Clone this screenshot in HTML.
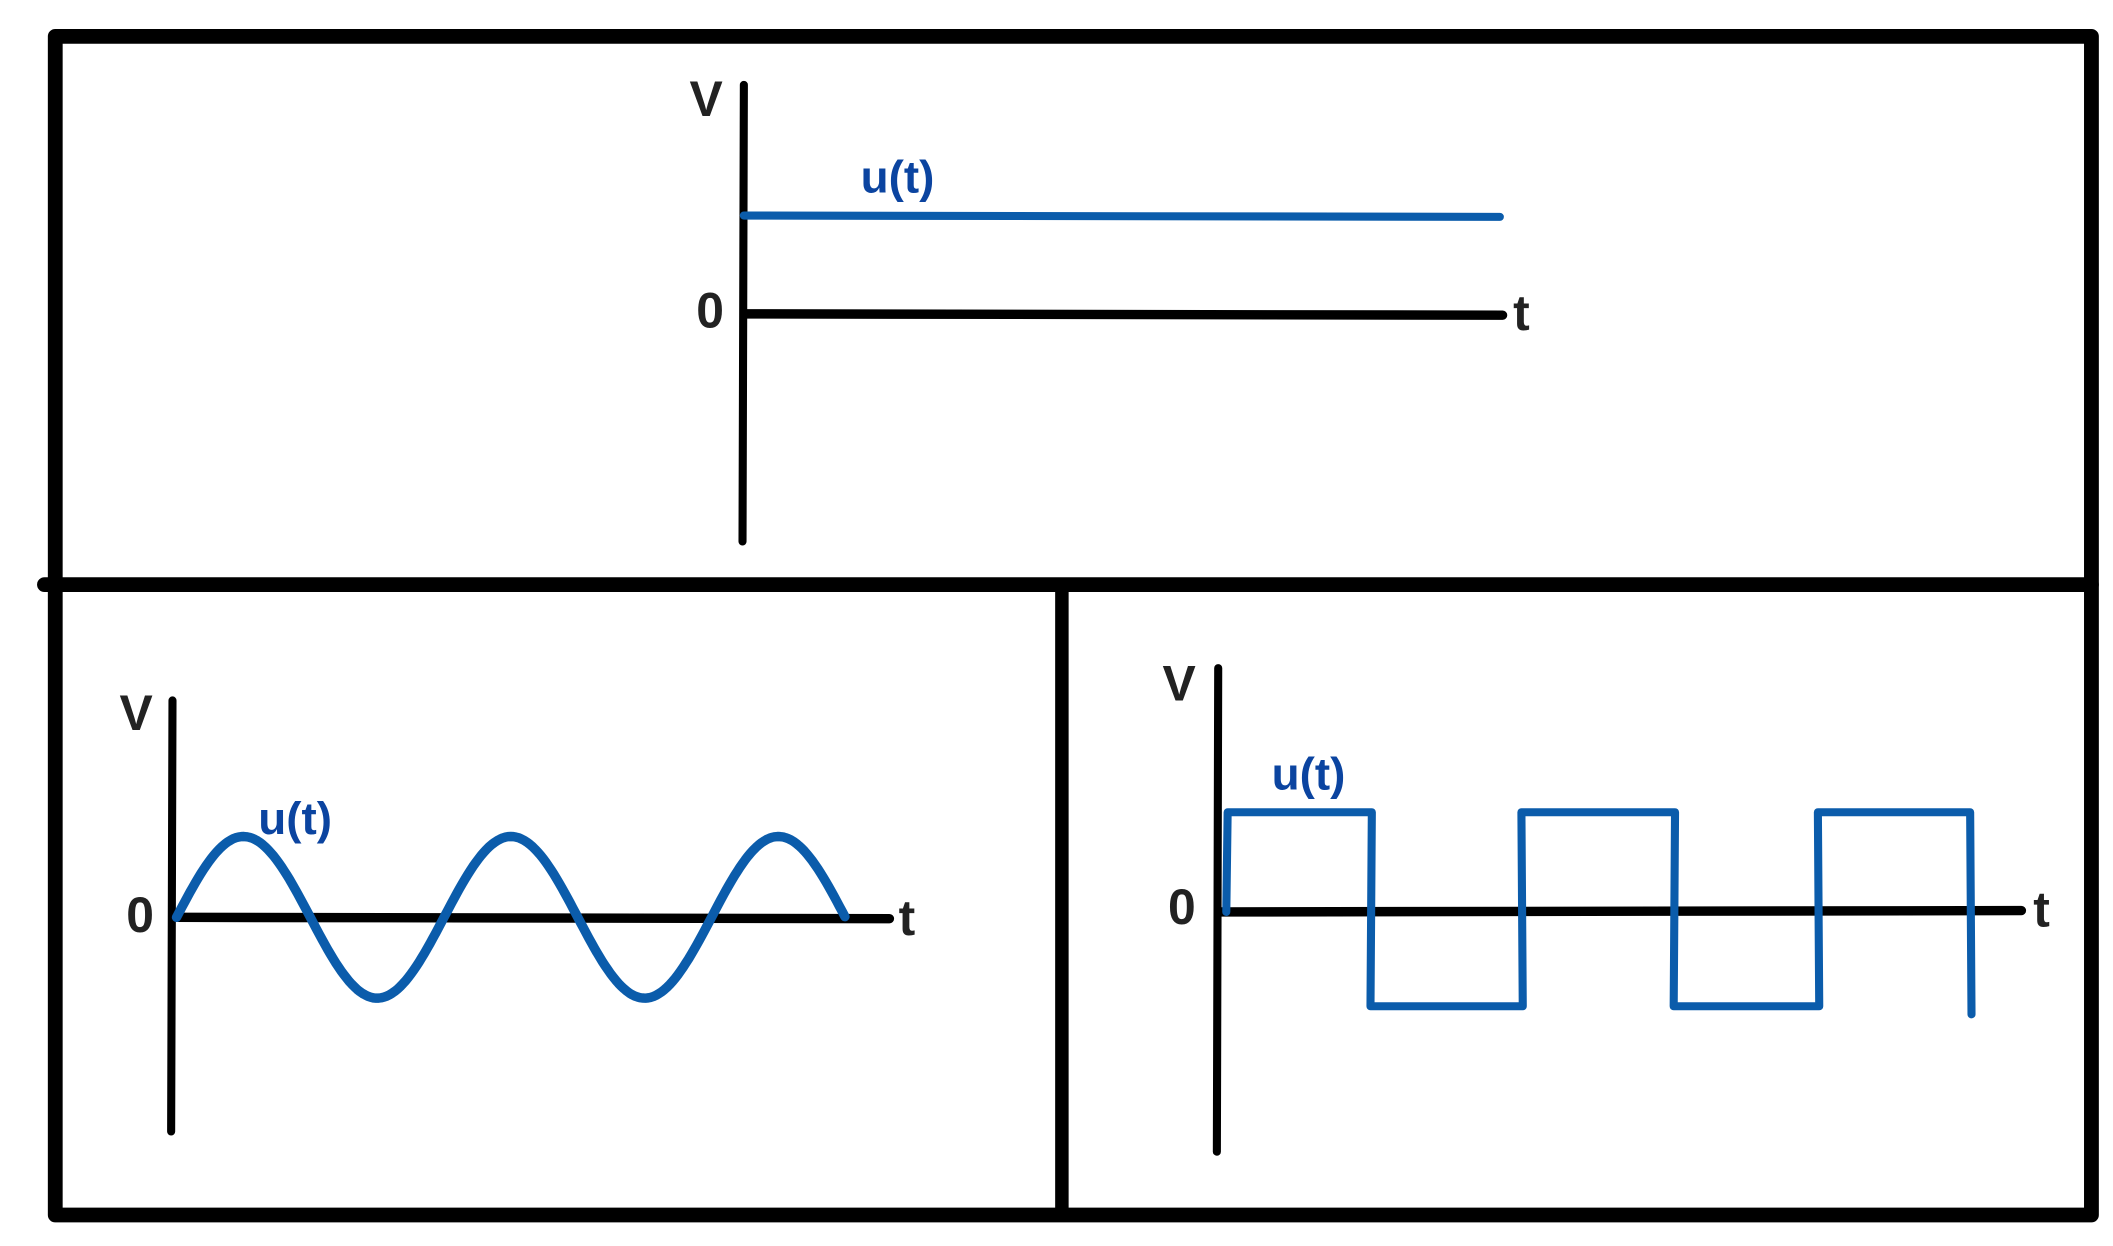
<!DOCTYPE html>
<html><head><meta charset="utf-8"><style>
html,body{margin:0;padding:0;background:#fff;width:2113px;height:1246px;overflow:hidden}
svg{display:block}
text{font-family:"Liberation Sans",Arial,sans-serif;font-weight:bold}
</style></head><body>
<svg width="2113" height="1246" viewBox="0 0 1568 925" preserveAspectRatio="none" xmlns="http://www.w3.org/2000/svg">
<g stroke="#000" stroke-linecap="round" fill="none">
<path d="M41 27 L1552 27 L1552 902 L41 902 Z" stroke-width="11" stroke-linejoin="round"/>
<line x1="33" y1="434" x2="1552" y2="434" stroke-width="11"/>
<line x1="788" y1="434" x2="788" y2="902" stroke-width="10"/>
<line x1="552" y1="63" x2="551" y2="402" stroke-width="6"/>
<line x1="553" y1="233" x2="1115" y2="234" stroke-width="7"/>
<line x1="128" y1="520" x2="127" y2="840" stroke-width="6"/>
<line x1="130" y1="681" x2="660" y2="682" stroke-width="7"/>
<line x1="904" y1="496" x2="903" y2="855" stroke-width="6"/>
<line x1="905" y1="677" x2="1500" y2="676" stroke-width="7"/>
</g>
<g stroke="#0b5cab" fill="none" stroke-linecap="round" stroke-linejoin="round">
<line x1="552" y1="160" x2="1113" y2="161" stroke-width="6"/>
<path id="sine" d="" stroke-width="7"/>
<path d="M910 677 L911 603 L1018 603 L1017 747 L1130 747 L1129 603 L1243 603 L1242 747 L1350 747 L1349 603 L1462 603 L1463 753" stroke-width="6"/>
</g>
<g font-size="37" fill="#222">
<text x="524" y="86" text-anchor="middle">V</text>
<text x="527" y="243" text-anchor="middle">0</text>
<text x="1129" y="245" text-anchor="middle">t</text>
<text x="101" y="542" text-anchor="middle">V</text>
<text x="104" y="692" text-anchor="middle">0</text>
<text x="673" y="694" text-anchor="middle">t</text>
<text x="875" y="520" text-anchor="middle">V</text>
<text x="877" y="686" text-anchor="middle">0</text>
<text x="1515" y="688" text-anchor="middle">t</text>
</g>
<g font-size="34" fill="#0b44a0">
<text x="666" y="143" text-anchor="middle">u(t)</text>
<text x="219" y="619" text-anchor="middle">u(t)</text>
<text x="971" y="586" text-anchor="middle">u(t)</text>
</g>
</svg>
<script>
(function(){var x0=131,p=198.5,A=60,y0=681,pts=[];for(var x=x0;x<=628;x+=2){pts.push(x+','+(y0-A*Math.sin(2*Math.PI*(x-x0)/p)).toFixed(1));}
document.getElementById('sine').setAttribute('d','M'+pts.join(' L'));})();
</script>
</body></html>
